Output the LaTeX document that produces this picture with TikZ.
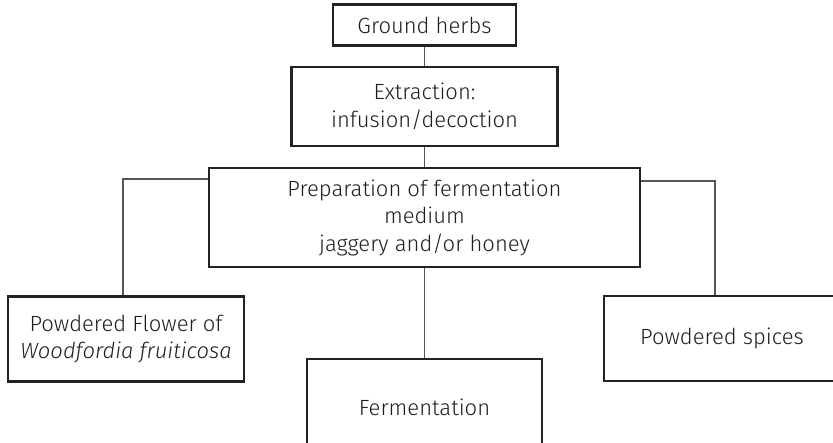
\documentclass[tikz,border=0pt]{standalone}
\usepackage{fontspec}
\setmainfont{Fira Sans Light}[ItalicFont={Fira Sans Light Italic}]
\begin{document}
\begin{tikzpicture}[x=1pt,y=-1pt,
  box/.style={draw=boxline,line width=2.6pt,fill=white,inner sep=0pt,
    align=center,font=\fontsize{22}{27.5}\selectfont,text=textcol},
  link/.style={draw=linkcol,line width=1.1pt}]
\definecolor{boxline}{HTML}{222222}
\definecolor{linkcol}{HTML}{555555}
\definecolor{textcol}{HTML}{1E1E1E}
\useasboundingbox (0,0) rectangle (833,443);
% process boxes, sized explicitly
\node[box,minimum width=183pt,minimum height=41pt] (gh) at (424.5,25) {Ground herbs};
\node[box,minimum width=266pt,minimum height=79pt] (ex) at (424.5,106.5) {Extraction:\\infusion/decoction};
\node[box,minimum width=431pt,minimum height=99pt] (prep) at (424.5,217.5) {Preparation of fermentation\\medium\\jaggery and/or honey};
\node[box,minimum width=236pt,minimum height=85pt] (flower) at (126,339) {Powdered Flower of\\\textit{Woodfordia fruiticosa}};
\node[box,minimum width=236pt,minimum height=85pt] (spice) at (722,338.5) {Powdered spices};
\node[box,minimum width=235pt,minimum height=86pt] (ferm) at (424.5,402) {\raisebox{-5pt}[\height][\depth]{Fermentation}};
% connectors
\draw[link] (gh.south) -- (ex.north);
\draw[link] (ex.south) -- (prep.north);
\draw[link] (prep.south) -- (ferm.north);
\draw[link] (prep.west |- 0,179) -| (flower.north -| 123,0);
\draw[link] (prep.east |- 0,181) -| (spice.north -| 715,0);
\end{tikzpicture}
\end{document}
